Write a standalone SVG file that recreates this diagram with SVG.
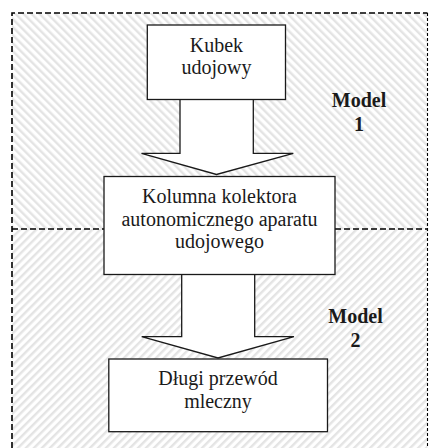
<svg xmlns="http://www.w3.org/2000/svg" width="429" height="448" viewBox="0 0 429 448">
<defs>
<pattern id="hatchA" patternUnits="userSpaceOnUse" width="5.66" height="5.66" patternTransform="rotate(-45)">
<rect x="0" y="0" width="5.66" height="5.66" fill="#ffffff"/>
<rect x="0" y="0" width="2.4" height="5.66" fill="#e4e4e4"/>
</pattern>
<pattern id="hatchB" patternUnits="userSpaceOnUse" width="5.66" height="5.66" patternTransform="rotate(45)">
<rect x="0" y="0" width="5.66" height="5.66" fill="#ffffff"/>
<rect x="0" y="0" width="2.4" height="5.66" fill="#e4e4e4"/>
</pattern>
</defs>
<style>
.box{fill:#ffffff;stroke:#1a1a1a;stroke-width:1.3}
.arr{fill:#ffffff;stroke:#1a1a1a;stroke-width:1.3;stroke-linejoin:miter}
.t{font-family:"Liberation Serif","Times New Roman",serif;font-size:20px;fill:#1a1a1a;text-anchor:middle}
.m{font-family:"Liberation Serif","Times New Roman",serif;font-size:20px;font-weight:bold;fill:#1a1a1a;text-anchor:middle}
.dash{fill:none;stroke:#000000;stroke-width:1.6;stroke-dasharray:6 3}
.dashR{fill:none;stroke:#000000;stroke-width:1.1;stroke-dasharray:3 2}
</style>
<rect x="0" y="0" width="429" height="448" fill="#ffffff"/>
<g id="regions">
<rect x="12" y="13" width="415.5" height="216" fill="url(#hatchA)"/>
<rect x="12" y="229" width="415.5" height="219" fill="url(#hatchB)"/>
<path class="dash" d="M12,448 V13 H427.5"/>
<path class="dashR" d="M427.5,13 V448"/>
<path class="dash" d="M12,229 H104 M335,229 H427.5"/>
<text class="m" x="359" y="107.3">Model</text>
<text class="m" x="359" y="130.7">1</text>
<text class="m" x="355.5" y="323.3">Model</text>
<text class="m" x="355.5" y="346.7">2</text>
</g>
<g id="connectors">
<path class="arr" d="M180,99.5 V153.3 H141.5 L216.5,174.5 L293.3,153.3 H253.3 V99.5"/>
<path class="arr" d="M181.7,274.5 V336.7 H141.7 L218,358 L294,336.7 H254.7 V274.5"/>
</g>
<g id="node-kubek">
<rect class="box" x="147.3" y="25" width="138.2" height="74.5"/>
<text class="t" x="216.4" y="51.7">Kubek</text>
<text class="t" x="216.4" y="74.3">udojowy</text>
</g>
<g id="node-kolumna">
<rect class="box" x="104" y="176.5" width="231" height="98"/>
<text class="t" x="219.5" y="203.3">Kolumna kolektora</text>
<text class="t" x="219.5" y="225.5">autonomicznego aparatu</text>
<text class="t" x="219.5" y="248">udojowego</text>
</g>
<g id="node-przewod">
<rect class="box" x="108.8" y="359" width="218.7" height="72.7"/>
<text class="t" x="218" y="385">Długi przewód</text>
<text class="t" x="218" y="408.3">mleczny</text>
</g>
</svg>
